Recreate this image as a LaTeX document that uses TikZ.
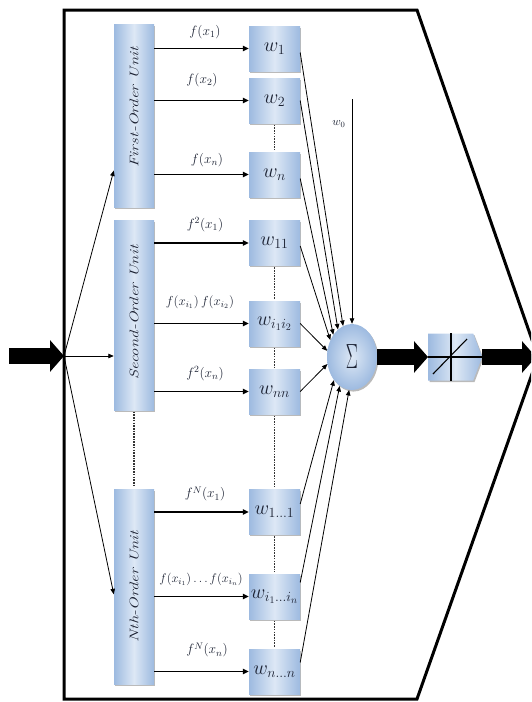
\RequirePackage{fix-cm}
\documentclass[tikz,border=0pt]{standalone}
\usepackage{graphicx}
\usetikzlibrary{arrows.meta,shapes.geometric,shapes.symbols,shadows,calc}
\definecolor{bxl}{HTML}{DDE8F5}
\definecolor{bxd}{HTML}{9DBAE0}
\definecolor{dotc}{HTML}{333333}
\definecolor{txt}{HTML}{1C2233}
\begin{document}
\begin{tikzpicture}[x=1pt,y=-1pt,
  bxfill/.style={left color=bxd, right color=bxd, middle color=bxl},
  shad/.style={drop shadow={shadow xshift=1.3pt,shadow yshift=-1.6pt,opacity=0.45,fill=black!60}},
  unitbox/.style={bxfill, shad, minimum width=40pt, inner sep=0pt, text=txt, font=\fontsize{12.5}{14}\selectfont\itshape},
  wbox/.style={bxfill, shad, minimum width=51pt, minimum height=45pt, inner sep=0pt, text=txt, font=\fontsize{20}{22}\selectfont},
  lbl/.style={inner sep=0pt, text=txt, font=\fontsize{13.5}{15}\selectfont},
  sumnode/.style={ellipse, inner color=bxl, outer color=bxd, shad, minimum width=50pt, minimum height=66pt, inner sep=0pt, text=txt, font=\fontsize{20}{22}\selectfont},
  actnode/.style={signal, signal to=east, signal pointer angle=138, bxfill, shad, minimum width=54pt, minimum height=47pt, inner sep=0pt},
  feed/.style={line width=1.2pt, -{Triangle[length=6pt,width=5.5pt]}},
  conn/.style={line width=0.8pt, -{Triangle[length=5.5pt,width=4.5pt]}},
  bigarrow/.style={line width=16pt, -{Triangle[length=14pt,width=31pt]}},
  dots/.style={line width=1.8pt, dotc, dash pattern=on 1.6pt off 1.1pt, shorten <=1.5pt, shorten >=2pt}
]
\clip (0,0) rectangle (531,702);
% outer frame
\draw[line width=3pt, line join=miter] (64,10) -- (417,10) -- (538,357) -- (417,699) -- (64,699) -- cycle;

% units
\node[unitbox, minimum height=183pt] (u1) at (134,115.5) {\rotatebox{90}{\hspace*{16pt}\scalebox{1.35}[1]{First-Order Unit}}};
\node[unitbox, minimum height=190pt] (u2) at (134,315) {\rotatebox{90}{\hspace*{5pt}\scalebox{1.35}[1]{Second-Order Unit}}};
\node[unitbox, minimum height=195pt] (u3) at (134,586.5) {\rotatebox{90}{\scalebox{1.35}[1]{Nth-Order Unit}}};

% weights
\node[wbox] (w1) at (274.5,48.5) {$w_1$};
\node[wbox] (w2) at (274.5,100.5) {$w_2$};
\node[wbox] (wn) at (274.5,174.5) {$w_n$};
\node[wbox] (w11) at (274.5,243) {$w_{11}$};
\node[wbox] (wii) at (274.5,323.5) {$w_{i_1i_2}$};
\node[wbox] (wnn) at (274.5,391.5) {$w_{nn}$};
\node[wbox] (wN1) at (274.5,512) {$w_{1\ldots1}$};
\node[wbox] (wNi) at (274.5,596.5) {$w_{i_1\ldots i_n}$};
\node[wbox] (wNn) at (274.5,671.5) {$w_{n\ldots n}$};

% sigma and activation
\node[sumnode] (sig) at (352,357) {\scalebox{0.9}[1.75]{$\Sigma$}};
\node[actnode, anchor=west] (act) at (428,357) {};
\draw[line width=1.1pt] ([xshift=23pt]act.north west) -- ([xshift=23pt]act.south west);
\draw[line width=1.1pt] (act.west) -- (act.east);
\draw[line width=1.1pt] ([xshift=5pt,yshift=-17pt]act.west) -- ([xshift=39pt,yshift=18pt]act.west);

% function labels
\node[lbl] (l1) at (205,32) {$f(x_1)$};
\node[lbl] (l2) at (202,80) {$f(x_2)$};
\node[lbl] (l3) at (207,160) {$f(x_n)$};
\node[lbl] (l4) at (205,225) {$f^2(x_1)$};
\node[lbl, font=\fontsize{13}{15}\selectfont] (l5) at (200,302) {$f(x_{i_1})\,f(x_{i_2})$};
\node[lbl, font=\fontsize{12.5}{15}\selectfont] (l8) at (201,579) {$f\big(x_{i_1}\big)\ldots f\big(x_{i_n}\big)$};
\node[lbl] (l6) at (205,374) {$f^2(x_n)$};
\node[lbl] (l7) at (205,494) {$f^N(x_1)$};
\node[lbl] (l9) at (207,650) {$f^N(x_n)$};
\node[inner sep=0pt, text=txt, font=\fontsize{11.5}{13}\selectfont] (w0l) at (339,124) {$w_0$};

% input
\coordinate (in0) at (9,356);
\coordinate (jn) at (64,356);
\draw[bigarrow] (in0) -- (jn);
\draw[conn] (jn) -- ($(u1.south west)!0.2!(u1.north west)$);
\draw[conn] (jn) -- (u2.west |- jn);
\draw[conn] (jn) -- ($(u3.south west)!0.46!(u3.north west)$);

% unit -> weight arrows
\draw[feed] (u1.east |- w1) -- (w1.west);
\draw[feed] (u1.east |- w2) -- (w2.west);
\draw[feed] (u1.east |- wn) -- (wn.west);
\draw[feed] (u2.east |- w11) -- (w11.west);
\draw[feed] (u2.east |- wii) -- (wii.west);
\draw[feed] (u2.east |- wnn) -- (wnn.west);
\draw[feed] (u3.east |- wN1) -- (wN1.west);
\draw[feed] (u3.east |- wNi) -- (wNi.west);
\draw[feed] (u3.east |- wNn) -- (wNn.west);

% dotted
\draw[dots] (u2.south) -- (u3.north);
\draw[dots] (w2.south) -- (wn.north);
\draw[dots] (w11.south) -- (wii.north);
\draw[dots] (wii.south) -- (wnn.north);
\draw[dots] (wnn.south) -- (wN1.north);
\draw[dots] (wN1.south) -- (wNi.north);
\draw[dots] (wNi.south) -- (wNn.north);

% weights -> sigma
\draw[conn] ([yshift=-4pt]w1.east) -- (sig.106);
\draw[conn] (w2.east) -- (sig.117);
\draw[conn] ([yshift=-4pt]wn.east) -- (sig.130);
\draw[conn] ([yshift=-3pt]w11.east) -- (sig.142);
\draw[conn] (wii.east) -- (sig.166);
\draw[conn] (wnn.east) -- (sig.196);
\draw[conn] ([yshift=8pt]wN1.east) -- (sig.232);
\draw[conn] ([yshift=14pt]wNi.east) -- (sig.247);
\draw[conn] ([yshift=9pt]wNn.east) -- (sig.265);
\coordinate (w0s) at (352,99);
\draw[conn] (w0s) -- (sig.north);

% output path
\draw[bigarrow] (sig.east) -- (act.west);
\coordinate (outtip) at (536,357);
\draw[bigarrow] (act.east) -- (outtip);
\end{tikzpicture}
\end{document}
